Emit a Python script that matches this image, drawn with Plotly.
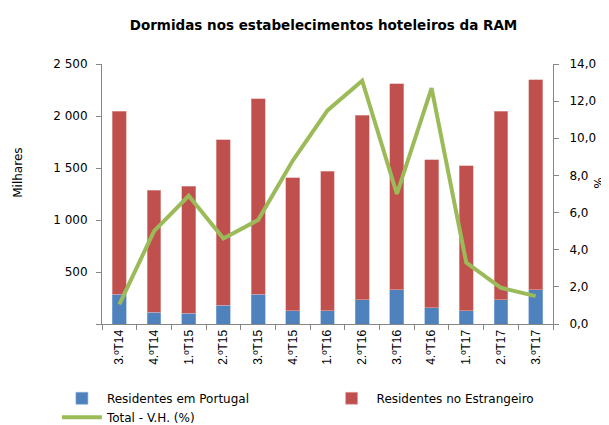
import plotly.graph_objects as go

categories = ["3.ºT14", "4.ºT14", "1.ºT15", "2.ºT15", "3.ºT15", "4.ºT15", "1.ºT16",
              "2.ºT16", "3.ºT16", "4.ºT16", "1.ºT17", "2.ºT17", "3.ºT17"]
residentes_portugal = [286, 113, 103, 180, 286, 128, 128, 234, 327, 154, 128, 234, 327]
residentes_estrangeiro = [1759, 1172, 1221, 1592, 1881, 1276, 1340, 1772, 1984, 1423, 1394, 1814, 2022]
total_vh = [1.06, 5.0, 6.9, 4.6, 5.6, 8.8, 11.5, 13.1, 7.0, 12.7, 3.3, 1.95, 1.5]

left_ticks = [0, 500, 1000, 1500, 2000, 2500]
left_ticktext = ["", "500", "1 000", "1 500", "2 000", "2 500"]
right_ticks = [0, 2, 4, 6, 8, 10, 12, 14]
right_ticktext = ["0,0", "2,0", "4,0", "6,0", "8,0", "10,0", "12,0", "14,0"]

FONT = "DejaVu Sans, Arial, sans-serif"
XFONT = "Liberation Sans, Arial, sans-serif"
AX = "#868686"

fig = go.Figure()
fig.add_trace(go.Bar(x=categories, y=residentes_portugal, name="Residentes em Portugal",
                     marker=dict(color="#4F81BD", line=dict(color="#8FB0DA", width=0.6)),
                     legend="legend"))
fig.add_trace(go.Bar(x=categories, y=residentes_estrangeiro, name="Residentes no Estrangeiro",
                     marker=dict(color="#C0504D", line=dict(color="#E3A6A4", width=0.6)),
                     legend="legend2"))
fig.add_trace(go.Scatter(x=categories, y=total_vh, name="Total - V.H. (%)", yaxis="y2",
                         mode="lines", line=dict(color="#9BBB59", width=4),
                         legend="legend"))

fig.update_layout(
    width=601, height=417,
    barmode="stack", bargap=0.6,
    paper_bgcolor="white", plot_bgcolor="white",
    font=dict(family=FONT, size=12, color="#000000"),
    title=dict(text="<b>Dormidas nos estabelecimentos hoteleiros da RAM</b>",
               x=0.525, xanchor="center", y=0.958, yanchor="middle",
               font=dict(size=13.5, family=FONT)),
    margin=dict(l=94, r=56, t=56, b=101, autoexpand=False),
    xaxis=dict(showline=True, linecolor=AX, linewidth=1, ticks="outside", tickson="boundaries",
               tickcolor=AX, ticklen=5, tickangle=-90, showgrid=False, automargin=False,
               tickfont=dict(size=12, family=XFONT)),
    yaxis=dict(range=[0, 2500], tickvals=left_ticks, ticktext=left_ticktext,
               showline=True, linecolor=AX, linewidth=1, ticks="outside", tickcolor=AX,
               ticklen=5, showgrid=False, zeroline=False, automargin=False,
               ticklabelstandoff=6, tickfont=dict(size=12)),
    yaxis2=dict(range=[0, 14], tickvals=right_ticks, ticktext=right_ticktext,
                overlaying="y", side="right",
                showline=True, linecolor=AX, linewidth=1, ticks="outside", tickcolor=AX,
                ticklen=5, showgrid=False, zeroline=False, automargin=False,
                ticklabelstandoff=8, tickfont=dict(size=12)),
    legend=dict(orientation="v", x=-0.1, xanchor="left", y=-0.23, yanchor="top",
                font=dict(size=12, family=FONT), traceorder="normal",
                tracegroupgap=0, itemwidth=40, bgcolor="rgba(0,0,0,0)"),
    legend2=dict(orientation="v", x=0.498, xanchor="left", y=-0.23, yanchor="top",
                 font=dict(size=12, family=FONT), itemwidth=40, bgcolor="rgba(0,0,0,0)"),
    showlegend=True,
    annotations=[
        dict(text="Milhares", xref="paper", yref="paper", x=-0.185, y=0.58,
             xanchor="center", yanchor="middle", textangle=-90, showarrow=False,
             font=dict(size=12, family=FONT)),
        dict(text="%", xref="paper", yref="paper", x=1.1, y=0.545,
             xanchor="center", yanchor="middle", textangle=90, showarrow=False,
             font=dict(size=12, family=FONT)),
    ],
)

fig.write_html("out.html")
